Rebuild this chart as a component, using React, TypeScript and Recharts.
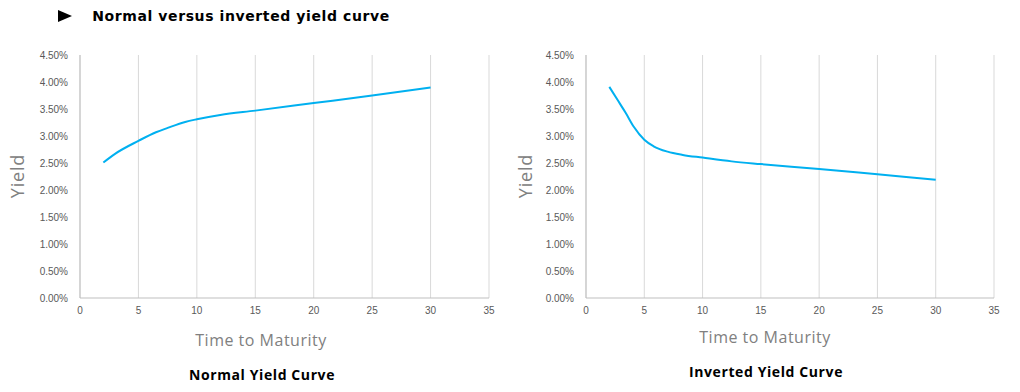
import React from "react";
import { LineChart, Line, XAxis, YAxis, CartesianGrid } from "recharts";

const normalMaturities = [2, 3, 5, 6.5, 7.5, 9, 10, 12, 15, 20, 25, 30];
const normalYields = [2.51, 2.67, 2.91, 3.07, 3.15, 3.26, 3.31, 3.39, 3.47, 3.61, 3.75, 3.9];
const invertedMaturities = [2, 2.7, 3.4, 4.1, 5, 5.8, 7, 8.3, 10, 12.5, 15, 20, 25, 30];
const invertedYields = [3.91, 3.67, 3.43, 3.17, 2.93, 2.81, 2.71, 2.65, 2.6, 2.53, 2.48, 2.39, 2.29, 2.19];
const xTicks = [0, 5, 10, 15, 20, 25, 30, 35];
const yTicks = [0, 0.5, 1, 1.5, 2, 2.5, 3, 3.5, 4, 4.5];

const normalData = normalMaturities.map((t, i) => ({ t, y: normalYields[i] }));
const invertedData = invertedMaturities.map((t, i) => ({ t, y: invertedYields[i] }));

const tickStyle = { fontSize: 10, fill: "#595959", fontFamily: "Liberation Sans, Arial, sans-serif" };
const titleFont = "'Open Sans', sans-serif";

function YieldChart({
  data,
  left,
  marginLeft,
  marginRight,
}: {
  data: { t: number; y: number }[];
  left: number;
  marginLeft: number;
  marginRight: number;
}) {
  return (
    <div style={{ position: "absolute", left, top: 0 }}>
      <LineChart
        width={510}
        height={392}
        data={data}
        margin={{ top: 55, right: marginRight, bottom: 64, left: marginLeft }}
      >
        <CartesianGrid horizontal={false} vertical={true} stroke="#d9d9d9" />
        <XAxis
          dataKey="t"
          type="number"
          domain={[0, 35]}
          ticks={xTicks}
          height={30}
          tick={tickStyle}
          tickLine={false}
          tickSize={0}
          tickMargin={9}
          axisLine={{ stroke: "#bfbfbf" }}
        />
        <YAxis
          type="number"
          domain={[0, 4.5]}
          ticks={yTicks}
          width={60}
          tick={tickStyle}
          tickLine={false}
          tickSize={0}
          tickMargin={12}
          axisLine={{ stroke: "#bfbfbf" }}
          tickFormatter={(v: number) => `${v.toFixed(2)}%`}
        />
        <Line
          type="monotone"
          dataKey="y"
          stroke="#00b0f0"
          strokeWidth={2}
          dot={false}
          isAnimationActive={false}
        />
      </LineChart>
    </div>
  );
}

const label = (text: string, x: number, y: number, style: React.CSSProperties) => (
  <div
    style={{
      position: "absolute",
      left: x,
      top: y,
      transform: "translate(-50%, -50%)",
      whiteSpace: "nowrap",
      fontFamily: titleFont,
      ...style,
    }}
  >
    {text}
  </div>
);

export default function App() {
  return (
    <div
      style={{
        position: "absolute",
        left: 0,
        top: 0,
        width: 1020,
        height: 392,
        background: "#fff",
        overflow: "hidden",
      }}
    >
      <svg style={{ position: "absolute", left: 58, top: 10 }} width={16} height={13}>
        <polygon points="0,0 14,6 0,12" fill="#000" />
      </svg>
      {label("Normal versus inverted yield curve", 241, 16, {
        fontSize: 14,
        fontWeight: 700,
        color: "#000",
        letterSpacing: 0.6,
        fontFamily: "'DejaVu Sans', sans-serif",
      })}
      <YieldChart data={normalData} left={0} marginLeft={20} marginRight={21} />
      <YieldChart data={invertedData} left={510} marginLeft={16} marginRight={26} />
      {label("Yield", 17, 176, {
        fontSize: 18,
        color: "#808080",
        letterSpacing: 0.8,
        transform: "translate(-50%, -50%) rotate(-90deg)",
      })}
      {label("Yield", 525, 176, {
        fontSize: 18,
        color: "#808080",
        letterSpacing: 0.8,
        transform: "translate(-50%, -50%) rotate(-90deg)",
      })}
      {label("Time to Maturity", 261, 340, { fontSize: 16, color: "#808080", letterSpacing: 0.5 })}
      {label("Time to Maturity", 765, 337, { fontSize: 16, color: "#808080", letterSpacing: 0.5 })}
      {label("Normal Yield Curve", 262, 374, { fontSize: 14, fontWeight: 700, color: "#000", letterSpacing: 0.6 })}
      {label("Inverted Yield Curve", 766, 371, { fontSize: 14, fontWeight: 700, color: "#000", letterSpacing: 0.6 })}
    </div>
  );
}
